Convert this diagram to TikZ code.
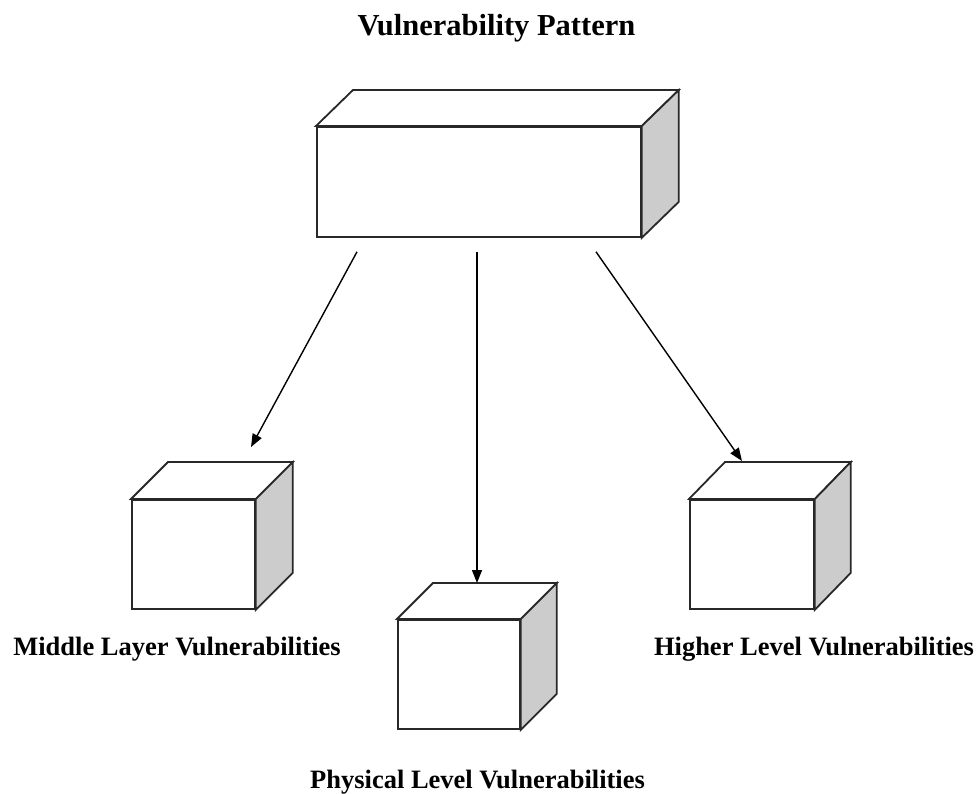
\documentclass[tikz,border=0pt]{standalone}
\usepackage{fontspec}
\setmainfont{Liberation Serif}
\usetikzlibrary{arrows.meta,calc}
\definecolor{sidegray}{RGB}{204,204,204}
\definecolor{boxline}{RGB}{40,40,40}
\tikzset{
  frontface/.style={draw=boxline, line width=1.8pt, fill=white, rectangle,
    inner sep=0pt, anchor=north west},
  cubeline/.style={draw=boxline, line width=1.8pt, line join=miter},
  connector/.style={draw=black, line width=1.4pt,
    -{Triangle[length=13pt,width=10pt]}},
  titletext/.style={font=\fontsize{30.5}{34}\selectfont\bfseries, anchor=base, inner sep=0pt},
  labeltext/.style={font=\fontsize{26.5}{30}\selectfont\bfseries, anchor=base, inner sep=0pt}
}
\newcommand\cubefaces[3]{%
  \draw[cubeline, fill=white] (#1.north west) -- ++(#2,-#3)
    -- ($(#1.north east)+(#2,-#3)$) -- (#1.north east) -- cycle;
  \draw[cubeline, fill=sidegray] (#1.north east) -- ++(#2,-#3)
    -- ($(#1.south east)+(#2,-#3)$) -- (#1.south east) -- cycle;}
\begin{document}
\begin{tikzpicture}[x=1pt,y=-1pt]
\useasboundingbox[fill=white] (0,0) rectangle (980,793);

% boxes (front faces)
\node[frontface, minimum width=324pt, minimum height=110pt] (top) at (316,126) {};
\node[frontface, minimum width=123pt, minimum height=109pt] (mid) at (131,499) {};
\node[frontface, minimum width=122pt, minimum height=109pt] (phys) at (397,619) {};
\node[frontface, minimum width=124pt, minimum height=109pt] (high) at (689,499) {};
\cubefaces{top}{37}{36}
\cubefaces{mid}{37}{37}
\cubefaces{phys}{36}{36}
\cubefaces{high}{36}{37}

% texts
\node[titletext] (title) at (496.5,35) {Vulnerability Pattern};
\node[labeltext] (midlabel) at (177,655) {Middle Layer Vulnerabilities};
\node[labeltext] (highlabel) at (814,655) {Higher Level Vulnerabilities};
\node[labeltext] (physlabel) at (477.5,788) {Physical Level Vulnerabilities};

% connector ends
\coordinate (s1) at ($(top.south west)+(41,14)$);
\coordinate (s2) at ($(top.south west)+(161,14)$);
\coordinate (s3) at ($(top.south west)+(280,14)$);
\coordinate (e1) at ($(mid.north west)+(120,-52)$);
\coordinate (e2) at ($(phys.north west)+(80,-36)$);
\coordinate (e3) at ($(high.north west)+(53,-38)$);

\draw[connector] (s1) -- (e1);
\draw[connector] (s2) -- (e2);
\draw[connector] (s3) -- (e3);
\end{tikzpicture}
\end{document}
